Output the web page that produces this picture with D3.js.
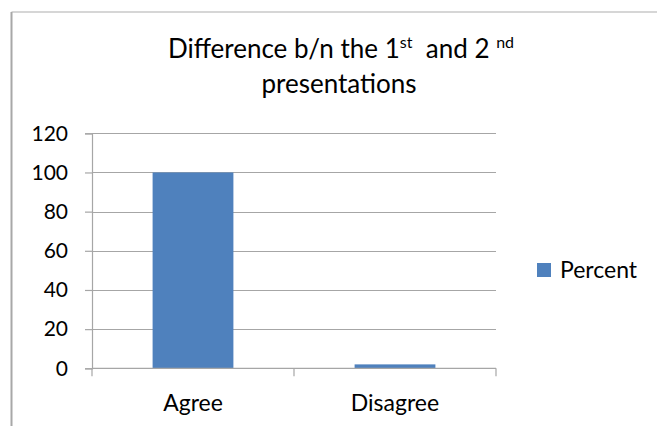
<!DOCTYPE html>
<html>
<head>
<meta charset="utf-8">
<script src="https://cdn.jsdelivr.net/npm/d3@7"></script>
<style>
  html, body { margin: 0; padding: 0; background: #fff; }
  svg { display: block; }
  text { font-family: Lato, "Open Sans", sans-serif; fill: #000; }
</style>
</head>
<body>
<svg id="chart" width="657" height="426"></svg>
<script>
const categories = ["Agree", "Disagree"];
const percentValues = [100, 2];
const seriesName = "Percent";
const yTicks = [0, 20, 40, 60, 80, 100, 120];

const svg = d3.select("#chart");
const W = 657, H = 426;

// chart area border (top and left visible)
svg.append("line").attr("x1", 11.5).attr("x2", W).attr("y1", 12).attr("y2", 12)
  .attr("stroke", "#c8c8c8").attr("stroke-width", 1.5);
svg.append("line").attr("x1", 11.5).attr("x2", 11.5).attr("y1", 12).attr("y2", H)
  .attr("stroke", "#a8a8a8").attr("stroke-width", 2);

const plot = { left: 92, right: 496, top: 133.3, bottom: 368.3 };

const x = d3.scaleBand().domain(categories).range([plot.left, plot.right])
  .paddingInner(0.6).paddingOuter(0.3);
const y = d3.scaleLinear().domain([0, 120]).range([plot.bottom, plot.top]);

// gridlines
svg.append("g").selectAll("line").data(yTicks.filter(d => d > 0)).join("line")
  .attr("x1", plot.left).attr("x2", plot.right)
  .attr("y1", d => Math.round(y(d)) + 0.5).attr("y2", d => Math.round(y(d)) + 0.5)
  .attr("stroke", "#a6a6a6").attr("stroke-width", 1.2);

// y axis
const yAxis = d3.axisLeft(y).tickValues(yTicks).tickSize(7).tickPadding(17);
const gy = svg.append("g").attr("transform", `translate(${plot.left},0)`).call(yAxis);
gy.select(".domain").attr("stroke", "#a6a6a6").attr("stroke-width", 1.2);
gy.selectAll(".tick line").attr("stroke", "#a6a6a6").attr("stroke-width", 1.2);
gy.selectAll(".tick text").style("font-family", "Lato, sans-serif").style("font-size", "21px").attr("fill", "#000");

// bars
svg.append("g").selectAll("rect").data(categories).join("rect")
  .attr("x", d => x(d))
  .attr("width", x.bandwidth())
  .attr("y", (d, i) => y(percentValues[i]))
  .attr("height", (d, i) => y(0) - y(percentValues[i]))
  .attr("fill", "#4f81bd");

// x axis
const xEdges = d3.scaleLinear().domain([0, categories.length]).range([plot.left, plot.right]);
const gx = svg.append("g");
gx.append("line").attr("x1", plot.left).attr("x2", plot.right)
  .attr("y1", y(0)).attr("y2", y(0)).attr("stroke", "#a6a6a6").attr("stroke-width", 1.2);
gx.selectAll("line.tk").data(d3.range(categories.length + 1)).join("line").attr("class", "tk")
  .attr("x1", d => xEdges(d)).attr("x2", d => xEdges(d))
  .attr("y1", y(0)).attr("y2", y(0) + 8).attr("stroke", "#a6a6a6").attr("stroke-width", 1.2);
gx.selectAll("text").data(categories).join("text")
  .attr("x", d => x(d) + x.bandwidth() / 2)
  .attr("y", 411)
  .attr("text-anchor", "middle")
  .style("font-size", "23px")
  .text(d => d);

// title
const title = svg.append("text").attr("x", 341).attr("y", 58).attr("text-anchor", "middle")
  .style("font-size", "26px");
title.append("tspan").text("Difference b/n the 1");
title.append("tspan").attr("dy", -10).style("font-size", "16px").text("st");
title.append("tspan").attr("dy", 10).text("\u00a0 and 2 ");
title.append("tspan").attr("dy", -10).style("font-size", "16px").text("nd");
svg.append("text").attr("x", 339).attr("y", 93).attr("text-anchor", "middle")
  .style("font-size", "26px").text("presentations");

// legend
const lg = svg.append("g").attr("transform", "translate(537,263)");
lg.append("rect").attr("width", 14).attr("height", 14).attr("fill", "#4f81bd");
lg.append("text").attr("x", 23).attr("y", 15).style("font-size", "23px").text(seriesName);
</script>
</body>
</html>
